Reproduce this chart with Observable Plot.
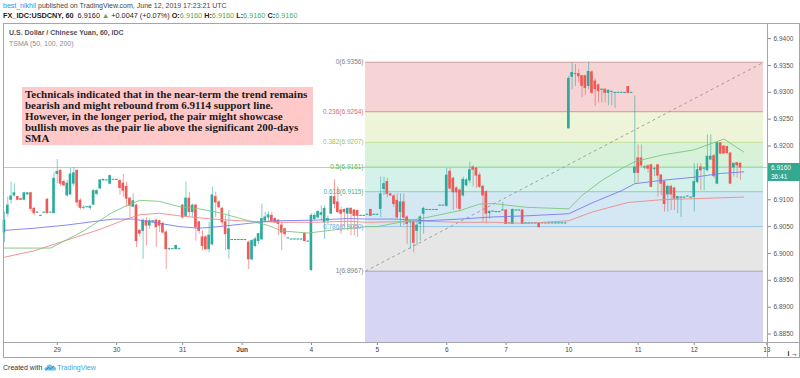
<!DOCTYPE html>
<html>
<head>
<meta charset="utf-8">
<script src="https://cdn.jsdelivr.net/npm/d3@7"></script>
<script src="https://cdn.jsdelivr.net/npm/@observablehq/plot@0.6"></script>
<style>
  html,body{margin:0;padding:0;background:#fff;overflow:hidden;}
  #wrap{position:relative;width:800px;height:378px;font-family:"Liberation Sans",Arial,sans-serif;color:#333;}
  .abs{position:absolute;white-space:nowrap;}
  #hdr1{left:3px;top:1px;font-size:7px;line-height:10px;color:#444;}
  #hdr2{left:3px;top:11px;font-size:7.3px;line-height:10px;color:#222;}
  #chart{left:0;top:23px;}
  #box{left:3px;top:23px;width:797px;height:335px;box-sizing:border-box;border:1px solid #a3a6ad;}
  #vline{left:767px;top:23px;width:1px;height:335px;background:#a3a6ad;}
  #hline{left:3px;top:342px;width:797px;height:1px;background:#a3a6ad;}
  #t1{left:9px;top:28px;font-size:7px;line-height:10px;color:#4c525e;font-weight:bold;}
  #t2{left:9px;top:39px;font-size:7px;line-height:10px;color:#8a8d95;}
  #note{left:22px;top:87px;width:291px;height:58px;background:#ffc9c9;box-sizing:border-box;padding:1.5px 0 0 3px;
        font-family:"Liberation Serif","Times New Roman",serif;font-weight:bold;font-size:11px;line-height:11.2px;color:#1b1b1b;white-space:nowrap;}
  #foot{left:3px;top:363px;font-size:7px;line-height:10px;color:#333;}
  .plbl{position:absolute;left:768px;width:32px;height:9px;background:#35a892;color:#fff;font-size:6.5px;line-height:9px;text-align:left;padding-left:3px;box-sizing:border-box;}
</style>
</head>
<body>
<div id="wrap">
  <div id="hdr1" class="abs"><span style="color:#2196f3">best_nikhil</span> published on TradingView.com, June 12, 2019 17:23:21 UTC</div>
  <div id="hdr2" class="abs"><b>FX_IDC:USDCNY, 60</b>&nbsp; 6.9160 <span style="color:#4caf50">▲</span> +0.0047 (+0.07%) <b>O:</b><span style="color:#4caf50">6.9160</span> <b>H:</b><span style="color:#4caf50">6.9160</span> <b>L:</b><span style="color:#4caf50">6.9160</span> <b>C:</b><span style="color:#4caf50">6.9160</span></div>
  <div id="chart" class="abs"></div>
  <div id="box" class="abs"></div>
  <div id="vline" class="abs"></div>
  <div id="hline" class="abs"></div>
  <div id="t1" class="abs">U.S. Dollar / Chinese Yuan, 60, IDC</div>
  <div id="t2" class="abs">TSMA (50, 100, 200)</div>
  <div id="note" class="abs">Technicals indicated that in the near-term the trend remains<br>bearish and might rebound from 6.9114 support line.<br>However, in the longer period, the pair might showcase<br>bullish moves as the pair lie above the significant 200-days<br>SMA</div>
  <div id="foot" class="abs">Created with <svg width="13" height="8" viewBox="0 0 13 8" style="vertical-align:-1px"><path d="M2 7.5 Q0 7.5 0.5 5.5 Q1 4 2.5 4.3 Q3 1.5 5.8 1.6 Q8 1.7 8.6 3.6 Q10 2.8 11.2 4 Q12.8 5.6 11.5 7.5 Z" fill="#6fc2ee"/><path d="M1.5 7 L4.5 4.5 L6.5 6 L10 3" stroke="#1e88c7" stroke-width="1" fill="none"/></svg><span style="color:#3ba6e6">TradingView</span></div>
</div>
<script>
// ---- candles: [bar index, open, high, low, close] (hourly bars) ----
const candlesMay28to31 = [
[0,6.9039,6.9077,6.9020,6.9061],[1,6.9074,6.9105,6.9067,6.9089],[2,6.9100,6.9133,6.9092,6.9106],
[3,6.9108,6.9130,6.9105,6.9112],[4,6.9105,6.9107,6.9098,6.9100],[5,6.9101,6.9102,6.9099,6.9100],
[6,6.9100,6.9114,6.9098,6.9112],[7,6.9110,6.9113,6.9109,6.9112],[8,6.9112,6.9114,6.9077,6.9083],
[9,6.9083,6.9086,6.9070,6.9075],[10,6.9076,6.9077,6.9075,6.9076],[11,6.9070,6.9071,6.9069,6.9070],
[12,6.9076,6.9077,6.9075,6.9076],[13,6.9100,6.9102,6.9074,6.9075],[14,6.9076,6.9077,6.9075,6.9076],
[15,6.9075,6.9150,6.9075,6.9139],[16,6.9148,6.9175,6.9130,6.9152],[17,6.9154,6.9155,6.9125,6.9130],
[18,6.9133,6.9137,6.9124,6.9127],[19,6.9108,6.9136,6.9105,6.9130],[20,6.9110,6.9158,6.9108,6.9147],
[21,6.9130,6.9160,6.9124,6.9149],[22,6.9154,6.9155,6.9087,6.9095],[23,6.9098,6.9102,6.9081,6.9085],
[24,6.9085,6.9089,6.9081,6.9085],[25,6.9086,6.9087,6.9085,6.9086],[26,6.9085,6.9088,6.9080,6.9087],
[27,6.9091,6.9119,6.9089,6.9116],[28,6.9111,6.9119,6.9108,6.9116],[29,6.9121,6.9137,6.9119,6.9136],
[30,6.9136,6.9138,6.9135,6.9137],[31,6.9136,6.9137,6.9135,6.9136],[32,6.9130,6.9146,6.9128,6.9144],
[33,6.9137,6.9138,6.9136,6.9137],[34,6.9137,6.9138,6.9136,6.9137],[35,6.9135,6.9137,6.9108,6.9122],
[36,6.9130,6.9147,6.9105,6.9117],[37,6.9124,6.9133,6.9086,6.9102],[38,6.9102,6.9105,6.9067,6.9089],
[39,6.9087,6.9111,6.9086,6.9097],[40,6.9089,6.9092,6.9011,6.9023],[41,6.9042,6.9045,6.9030,6.9037],
[42,6.9042,6.9064,6.8989,6.9061],[43,6.9060,6.9067,6.9014,6.9052],[44,6.9052,6.9064,6.9045,6.9060],
[45,6.9059,6.9061,6.9058,6.9060],[46,6.9061,6.9064,6.9011,6.9049],[47,6.9060,6.9062,6.9039,6.9052],
[48,6.9055,6.9058,6.9036,6.9039],[49,6.9039,6.9042,6.8970,6.9008],[50,6.9008,6.9010,6.9005,6.9008],
[51,6.9008,6.9009,6.9007,6.9008],[52,6.9008,6.9015,6.9007,6.9014],[53,6.9008,6.9009,6.9007,6.9008]
];
const candlesMay31toJun4 = [
[54,6.9089,6.9092,6.9064,6.9067],[55,6.9070,6.9133,6.9067,6.9102],[56,6.9102,6.9114,6.9067,6.9077],
[57,6.9077,6.9092,6.9067,6.9089],[58,6.9089,6.9092,6.9023,6.9049],[59,6.9058,6.9060,6.9036,6.9042],
[60,6.9030,6.9042,6.9005,6.9014],[61,6.9030,6.9033,6.9005,6.9008],[62,6.9008,6.9058,6.9001,6.9033],
[63,6.9017,6.9124,6.9014,6.9108],[64,6.9105,6.9114,6.9067,6.9095],[65,6.9095,6.9098,6.9083,6.9086],
[66,6.9083,6.9086,6.9052,6.9058],[67,6.9058,6.9070,6.9005,6.9036],[68,6.9008,6.9080,6.8989,6.9045],
[69,6.9025,6.9026,6.9024,6.9025],[70,6.9025,6.9026,6.9024,6.9025],[71,6.9025,6.9026,6.9024,6.9025],
[72,6.9025,6.9026,6.9024,6.9025],[73,6.9025,6.9026,6.9024,6.9025],[74,6.9020,6.9023,6.8970,6.8989],
[75,6.8989,6.9026,6.8986,6.9023],[76,6.9014,6.9030,6.9011,6.9026],[77,6.9023,6.9036,6.9017,6.9036],
[78,6.9026,6.9092,6.9026,6.9064],[79,6.9061,6.9077,6.9058,6.9067],[80,6.9067,6.9077,6.9058,6.9071],
[81,6.9070,6.9077,6.9058,6.9060],[82,6.9064,6.9066,6.9055,6.9058],[83,6.9061,6.9063,6.9033,6.9055],
[84,6.9052,6.9058,6.9005,6.9039],[85,6.9045,6.9047,6.9030,6.9036],[86,6.9028,6.9029,6.9027,6.9028],
[87,6.9026,6.9027,6.9025,6.9026],[88,6.9026,6.9027,6.9025,6.9026],[89,6.9026,6.9027,6.9025,6.9026],
[90,6.9026,6.9027,6.9025,6.9026],[91,6.9036,6.9039,6.9022,6.9023],[92,6.9022,6.9023,6.9021,6.9022],
[93,6.8969,6.9074,6.8967,6.9070],[94,6.9064,6.9074,6.9061,6.9070],[95,6.9067,6.9080,6.9064,6.9077],
[96,6.9072,6.9089,6.9061,6.9075],[97,6.9058,6.9089,6.9026,6.9083],[98,6.9061,6.9070,6.9052,6.9064],
[99,6.9074,6.9108,6.9073,6.9105],[100,6.9105,6.9137,6.9083,6.9092],[101,6.9095,6.9124,6.9074,6.9077],
[102,6.9080,6.9086,6.9036,6.9074],[103,6.9081,6.9083,6.9049,6.9077],[104,6.9074,6.9085,6.9042,6.9083],
[105,6.9083,6.9085,6.9033,6.9074],[106,6.9080,6.9082,6.9033,6.9070],[107,6.9079,6.9081,6.9030,6.9070],
[108,6.9070,6.9071,6.9069,6.9070],[109,6.9070,6.9071,6.9069,6.9070],[110,6.9072,6.9073,6.9071,6.9072],
[111,6.9081,6.9082,6.9069,6.9070],[112,6.9072,6.9073,6.9071,6.9072],[113,6.9072,6.9073,6.9071,6.9072]
];
const candlesJun5to7 = [
[114,6.9083,6.9142,6.9067,6.9110],[115,6.9120,6.9142,6.9108,6.9129],[116,6.9133,6.9140,6.9104,6.9111],
[117,6.9110,6.9112,6.9106,6.9108],[118,6.9106,6.9110,6.9086,6.9092],[119,6.9098,6.9111,6.9064,6.9067],
[120,6.9077,6.9111,6.9049,6.9095],[121,6.9095,6.9111,6.9052,6.9067],[122,6.9067,6.9070,6.9017,6.9055],
[123,6.9058,6.9060,6.9008,6.9059],[124,6.9058,6.9061,6.9001,6.9020],[125,6.9042,6.9061,6.9014,6.9052],
[126,6.9055,6.9070,6.9023,6.9067],[127,6.9074,6.9086,6.9036,6.9083],[128,6.9081,6.9082,6.9080,6.9081],
[129,6.9081,6.9082,6.9080,6.9081],[130,6.9081,6.9082,6.9080,6.9081],[131,6.9081,6.9082,6.9080,6.9081],
[132,6.9089,6.9090,6.9088,6.9089],[133,6.9089,6.9090,6.9088,6.9089],[134,6.9089,6.9158,6.9086,6.9145],
[135,6.9152,6.9158,6.9117,6.9121],[136,6.9139,6.9142,6.9080,6.9114],[137,6.9121,6.9124,6.9083,6.9114],
[138,6.9117,6.9120,6.9077,6.9083],[139,6.9108,6.9142,6.9105,6.9137],[140,6.9127,6.9139,6.9124,6.9136],
[141,6.9136,6.9170,6.9130,6.9155],[142,6.9160,6.9164,6.9124,6.9156],[143,6.9158,6.9160,6.9121,6.9145],
[144,6.9145,6.9150,6.9121,6.9124],[145,6.9124,6.9127,6.9058,6.9108],[146,6.9114,6.9117,6.9055,6.9074],
[147,6.9075,6.9080,6.9064,6.9077],[148,6.9078,6.9079,6.9077,6.9078],[149,6.9077,6.9078,6.9076,6.9077],
[150,6.9077,6.9078,6.9076,6.9077],[151,6.9080,6.9095,6.9079,6.9080],[152,6.9080,6.9081,6.9054,6.9055],
[153,6.9056,6.9057,6.9055,6.9056],[154,6.9055,6.9083,6.9054,6.9081],[155,6.9080,6.9081,6.9079,6.9080],
[156,6.9080,6.9081,6.9079,6.9080],[157,6.9080,6.9081,6.9054,6.9055],[158,6.9056,6.9057,6.9055,6.9056],
[159,6.9056,6.9057,6.9055,6.9056],[160,6.9056,6.9057,6.9055,6.9056],[161,6.9056,6.9057,6.9055,6.9056],
[162,6.9055,6.9056,6.9048,6.9049],[163,6.9056,6.9057,6.9055,6.9056],[164,6.9056,6.9057,6.9055,6.9056],
[165,6.9056,6.9057,6.9055,6.9056],[166,6.9056,6.9057,6.9055,6.9056],[167,6.9056,6.9057,6.9055,6.9056],
[168,6.9056,6.9057,6.9055,6.9056],[169,6.9056,6.9057,6.9055,6.9056],[170,6.9056,6.9057,6.9055,6.9056]
];
const candlesJun10to12 = [
[171,6.9233,6.9330,6.9232,6.9325],[172,6.9329,6.9355,6.9305,6.9336],[173,6.9334,6.9352,6.9311,6.9334],
[174,6.9334,6.9343,6.9318,6.9330],[175,6.9330,6.9331,6.9290,6.9312],[176,6.9330,6.9332,6.9295,6.9308],
[177,6.9312,6.9356,6.9305,6.9338],[178,6.9337,6.9340,6.9296,6.9299],[179,6.9320,6.9325,6.9274,6.9306],
[180,6.9313,6.9316,6.9280,6.9302],[181,6.9305,6.9306,6.9280,6.9305],[182,6.9305,6.9306,6.9280,6.9299],
[183,6.9299,6.9304,6.9275,6.9303],[184,6.9301,6.9302,6.9275,6.9301],[185,6.9299,6.9300,6.9270,6.9299],
[186,6.9299,6.9300,6.9298,6.9299],[187,6.9299,6.9300,6.9298,6.9299],[188,6.9299,6.9300,6.9298,6.9299],
[189,6.9310,6.9311,6.9298,6.9299],[190,6.9299,6.9300,6.9298,6.9299],
[191,6.9150,6.9293,6.9130,6.9160],[192,6.9177,6.9202,6.9131,6.9150],[193,6.9177,6.9202,6.9160,6.9164],
[194,6.9160,6.9164,6.9155,6.9160],[195,6.9162,6.9165,6.9150,6.9158],[196,6.9164,6.9166,6.9124,6.9124],
[197,6.9157,6.9160,6.9143,6.9157],[198,6.9164,6.9166,6.9105,6.9145],[199,6.9145,6.9147,6.9108,6.9130],
[200,6.9133,6.9135,6.9077,6.9092],[201,6.9110,6.9127,6.9077,6.9124],[202,6.9124,6.9127,6.9080,6.9110],
[203,6.9121,6.9123,6.9080,6.9102],[204,6.9102,6.9106,6.9074,6.9105],[205,6.9104,6.9106,6.9067,6.9104],
[206,6.9104,6.9105,6.9103,6.9104],[207,6.9106,6.9107,6.9105,6.9106],[208,6.9104,6.9105,6.9103,6.9104],
[209,6.9105,6.9167,6.9077,6.9133],[210,6.9133,6.9167,6.9130,6.9155],[211,6.9160,6.9167,6.9117,6.9155],
[212,6.9158,6.9160,6.9117,6.9158],[213,6.9155,6.9221,6.9152,6.9180],[214,6.9175,6.9221,6.9173,6.9180],
[215,6.9181,6.9184,6.9139,6.9144],[216,6.9130,6.9206,6.9128,6.9205],[217,6.9205,6.9206,6.9184,6.9186],
[218,6.9199,6.9201,6.9184,6.9186],[219,6.9198,6.9200,6.9184,6.9187],[220,6.9186,6.9188,6.9128,6.9130],
[221,6.9160,6.9167,6.9142,6.9167],[222,6.9168,6.9170,6.9140,6.9164],[223,6.9167,6.9168,6.9136,6.9160]
];

// ---- moving averages (TSMA 50 / 100 / 200): [bar index, value] ----
const sma50 = [[0,6.9010],[14,6.9010],[24,6.9042],[32,6.9074],[37,6.9089],[41,6.9099],[47,6.9097],[53,6.9087],
[59,6.9083],[65,6.9076],[74,6.9061],[80,6.9052],[84,6.9042],[92,6.9038],[100,6.9044],[110,6.9050],[113,6.9050],
[123,6.9062],[128,6.9067],[138,6.9080],[144,6.9092],[148,6.9093],[158,6.9086],[171,6.9083],[175,6.9108],
[181,6.9136],[187,6.9158],[191,6.9171],[199,6.9183],[209,6.9193],[213,6.9202],[218,6.9213],[224,6.9189]];
const sma100 = [[0,6.9043],[9,6.9047],[19,6.9053],[29,6.9061],[33,6.9064],[39,6.9064],[47,6.9056],[53,6.9050],
[59,6.9047],[65,6.9050],[74,6.9056],[80,6.9060],[84,6.9061],[94,6.9062],[104,6.9065],[110,6.9064],[118,6.9064],
[128,6.9061],[138,6.9064],[148,6.9068],[158,6.9070],[171,6.9074],[178,6.9094],[187,6.9117],[191,6.9130],
[199,6.9136],[209,6.9142],[217,6.9149],[224,6.9152]];
const sma200 = [[0,6.8993],[9,6.9005],[19,6.9025],[29,6.9045],[37,6.9064],[41,6.9072],[47,6.9075],[53,6.9070],
[63,6.9064],[74,6.9060],[84,6.9058],[94,6.9058],[104,6.9060],[110,6.9058],[128,6.9060],[138,6.9058],[148,6.9058],
[158,6.9056],[171,6.9061],[178,6.9077],[189,6.9095],[199,6.9100],[209,6.9102],[224,6.9105]];

// ---- Fibonacci retracement ----
const fibRatios = [0, 0.236, 0.382, 0.5, 0.618, 0.786, 1, 1.618];
const fibPrices = [6.9356, 6.9264, 6.9207, 6.9161, 6.9115, 6.9050, 6.8967, 6.8727];
const fibAnchorBars = [109.4, 230];   // start / end bar of the drawing

// ---- axes ----
const yTicks = [6.9400, 6.9350, 6.9300, 6.9250, 6.9200, 6.9100, 6.9050, 6.9000, 6.8950, 6.8900, 6.8850];
const xTickBars = [16, 34, 54, 72, 93, 113, 134, 152, 171, 192, 209, 231];
const xTickLabels = ["29", "30", "31", "Jun", "4", "5", "6", "7", "10", "11", "12", "13"];
const lastPrice = 6.9160;
const countdown = "36:41";

// ---- styles ----
const upColor = "#26a69a", downColor = "#ef5350";
const bandFill = ["#f6d4d5", "#edf4d7", "#d8f2d9", "#d4f2ea", "#d4e8f4", "#e6e6e6", "#d6d6f4"];
const levelStroke = ["#cfa6a6", "#e98d8d", "#c4e39c", "#97d897", "#86d3c0", "#98c8e6", "#a8a8a8"];
const levelText = ["#808080", "#e06666", "#9cc35a", "#5cb85c", "#3cb394", "#5aaee0", "#808080"];

const bars = [...candlesMay28to31, ...candlesMay31toJun4, ...candlesJun5to7, ...candlesJun10to12]
  .map(([i, o, h, l, c]) => ({i, o, h, l, c}));
const candleColor = d => d.c >= d.o ? upColor : downColor;
const fib = fibRatios.map((r, k) => ({r, p: fibPrices[k], k}));
const bands = fib.slice(0, -1).map((d, k) => ({k, hi: d.p, lo: fib[k + 1].p}));
const levels = fib.slice(0, 7);
const pts = arr => arr.map(([i, v]) => ({i, v}));
const [fibX1, fibX2] = fibAnchorBars;
const labelOf = new Map(xTickBars.map((b, k) => [b, xTickLabels[k]]));

const chart = Plot.plot({
  width: 800, height: 335,
  marginLeft: 3, marginRight: 33, marginTop: 0, marginBottom: 16,
  x: {domain: [-0.3, 231.2], axis: null},
  y: {domain: [6.88342, 6.94282], axis: null},
  color: {type: "identity"},
  style: {fontFamily: "'Liberation Sans', Arial, sans-serif", fontSize: "6.5px", background: "transparent", overflow: "visible"},
  marks: [
    Plot.rect(bands, {x1: () => fibX1, x2: () => fibX2, y1: "lo", y2: "hi", fill: d => bandFill[d.k], clip: true}),
    Plot.ruleY(levels, {y: "p", x1: () => fibX1, x2: () => fibX2, stroke: d => levelStroke[d.k], strokeWidth: 1}),
    Plot.ruleY([lastPrice], {stroke: "#9adccd", strokeWidth: 1}),
    Plot.link([fibPrices], {x1: () => fibX1, y1: d => d[6], x2: () => fibX2, y2: d => d[0],
      stroke: "#a0a0a0", strokeWidth: 1, strokeDasharray: "3,3"}),
    Plot.text(levels, {x: () => fibX1, y: "p", text: d => `${d.r}(${d.p.toFixed(4)})`, textAnchor: "end",
      dx: -2, fill: d => levelText[d.k], fontSize: 6.5}),
    Plot.ruleX(bars, {x: "i", y1: "l", y2: "h", stroke: candleColor, strokeOpacity: 0.55, strokeWidth: 1}),
    Plot.rect(bars, {x1: d => d.i - 0.4, x2: d => d.i + 0.4, y1: "o", y2: "c", fill: candleColor,
      fillOpacity: 0.95, insetTop: -0.5, insetBottom: -0.5}),
    Plot.line(pts(sma200), {x: "i", y: "v", stroke: "#f08a8a", strokeWidth: 1, strokeOpacity: 0.9}),
    Plot.line(pts(sma100), {x: "i", y: "v", stroke: "#7b7bef", strokeWidth: 1, strokeOpacity: 0.9}),
    Plot.line(pts(sma50), {x: "i", y: "v", stroke: "#7cc77c", strokeWidth: 1, strokeOpacity: 0.9}),
    Plot.axisY(yTicks, {anchor: "right", tickSize: 3, tickPadding: 3, tickFormat: d => d.toFixed(4),
      fontSize: 6.5, fill: "#555", stroke: "#888"}),
    Plot.axisX(xTickBars.filter(b => labelOf.get(b) !== "Jun"), {anchor: "bottom", tickSize: 3, tickPadding: 2,
      tickFormat: d => labelOf.get(d), fontSize: 6.5, fill: "#444", stroke: "#888"}),
    Plot.axisX(xTickBars.filter(b => labelOf.get(b) === "Jun"), {anchor: "bottom", tickSize: 3, tickPadding: 2,
      tickFormat: d => labelOf.get(d), fontSize: 6.5, fontWeight: "bold", fill: "#444", stroke: "#888"})
  ]
});
document.getElementById("chart").appendChild(chart);

// last price + countdown tags on the price scale
const yPx = 23 + chart.scale("y").apply(lastPrice);
const wrap = document.getElementById("wrap");
const tag1 = document.createElement("div");
tag1.className = "plbl"; tag1.style.top = (yPx - 4.5) + "px"; tag1.textContent = lastPrice.toFixed(4);
const tag2 = document.createElement("div");
tag2.className = "plbl"; tag2.style.top = (yPx + 4.5) + "px"; tag2.textContent = countdown;
wrap.appendChild(tag1); wrap.appendChild(tag2);
</script>
</body>
</html>
